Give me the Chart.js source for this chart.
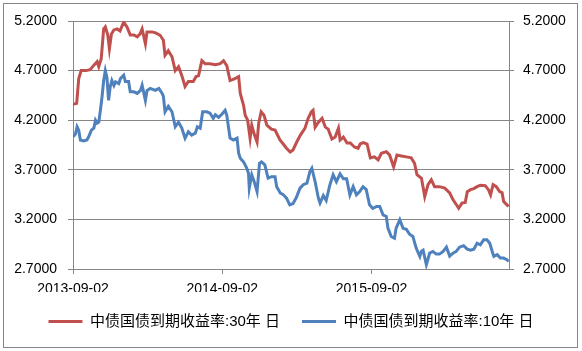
<!DOCTYPE html>
<html>
<head>
<meta charset="utf-8">
<script src="https://cdn.jsdelivr.net/npm/chart.js@4"></script>
<style>
  body { margin: 0; background: #fff; }
</style>
</head>
<body>
<canvas id="yieldChart" width="582" height="351"></canvas>
<script>
// days counted from 2013-09-02
const xTickDays = [0, 365, 730];
const xTickLabels = ['2013-09-02', '2014-09-02', '2015-09-02'];
const yTicks = [2.7, 3.2, 3.7, 4.2, 4.7, 5.2];
const lastDay = 1066;

const days30 = [0, 9, 14, 20, 32, 42, 51, 59, 63, 69, 75, 79, 85, 89, 94, 100, 108, 115, 124, 132,
  140, 149, 157, 164, 169, 177, 181, 193, 202, 213, 221, 225, 233, 242, 250, 258, 266, 274, 282, 294,
  301, 307, 315, 323, 335, 348, 360, 368, 376, 384, 396, 405, 409, 417, 421, 427, 433, 437, 443, 450,
  454, 460, 467, 474, 485, 494, 506, 514, 522, 531, 538, 547, 556, 567, 575, 583, 587, 592, 600, 609,
  617, 624, 633, 641, 649, 653, 661, 670, 678, 688, 697, 702, 710, 719, 727, 737, 746, 754, 766, 774,
  784, 792, 803, 815, 827, 835, 841, 852, 860, 868, 876, 884, 896, 909, 921, 929, 937, 943, 951, 959,
  964, 972, 980, 988, 996, 1008, 1016, 1021, 1027, 1035, 1043, 1049, 1053, 1061, 1065];
const yield30 = [4.36, 4.37, 4.62, 4.70, 4.70, 4.71, 4.755, 4.79, 4.74, 4.82, 5.12, 5.14, 5.06, 4.92, 5.07, 5.11, 5.12, 5.10, 5.19, 5.14,
  5.06, 5.06, 5.04, 5.07, 5.12, 4.97, 5.09, 5.09, 5.08, 5.056, 5.006, 4.855, 4.90, 4.84, 4.70, 4.74, 4.65, 4.54, 4.59, 4.59,
  4.64, 4.65, 4.80, 4.77, 4.77, 4.76, 4.77, 4.80, 4.75, 4.60, 4.62, 4.64, 4.47, 4.35, 4.25, 4.20, 4.017, 4.15, 4.06, 3.98,
  4.17, 4.285, 4.25, 4.15, 4.11, 4.10, 4.00, 3.96, 3.917, 3.88, 3.90, 3.98, 4.05, 4.117, 4.22, 4.285, 4.30, 4.13, 4.18, 4.22,
  4.13, 4.11, 4.01, 4.03, 4.12, 4.00, 4.03, 3.97, 3.97, 3.93, 3.917, 3.96, 3.975, 3.96, 3.82, 3.83, 3.80, 3.867, 3.883, 3.85,
  3.73, 3.85, 3.84, 3.83, 3.82, 3.766, 3.65, 3.615, 3.43, 3.55, 3.60, 3.53, 3.53, 3.515, 3.466, 3.40, 3.35, 3.313, 3.364, 3.37,
  3.48, 3.50, 3.51, 3.53, 3.545, 3.54, 3.497, 3.447, 3.55, 3.53, 3.48, 3.47, 3.38, 3.347, 3.33];

const days10 = [0, 6, 10, 14, 18, 26, 34, 38, 45, 51, 55, 59, 63, 67, 71, 75, 79, 83, 87, 91,
  95, 100, 104, 112, 116, 124, 128, 136, 140, 149, 157, 165, 169, 177, 181, 189, 201, 210, 218, 221,
  225, 233, 242, 250, 258, 266, 274, 282, 290, 299, 304, 311, 317, 327, 335, 343, 348, 356, 364, 372,
  376, 384, 392, 401, 405, 409, 417, 425, 429, 431, 437, 443, 450, 456, 461, 469, 477, 485, 494, 498,
  507, 514, 522, 530, 538, 546, 555, 563, 572, 579, 584, 592, 600, 604, 612, 619, 628, 636, 644, 653,
  661, 669, 677, 685, 693, 701, 709, 717, 725, 733, 742, 750, 758, 766, 770, 778, 786, 790, 799, 807,
  815, 823, 831, 839, 848, 852, 856, 864, 872, 880, 888, 896, 905, 913, 921, 929, 937, 945, 955, 964,
  972, 980, 988, 996, 1004, 1012, 1019, 1025, 1029, 1037, 1045, 1053, 1061, 1065];
const yield10 = [4.034, 4.06, 4.134, 4.10, 4.00, 3.99, 4.00, 4.03, 4.10, 4.12, 4.20, 4.17, 4.18, 4.30, 4.436, 4.60, 4.70, 4.63, 4.40, 4.536,
  4.60, 4.55, 4.587, 4.57, 4.62, 4.654, 4.59, 4.59, 4.486, 4.486, 4.47, 4.50, 4.553, 4.40, 4.50, 4.52, 4.50, 4.52, 4.47, 4.44,
  4.285, 4.34, 4.285, 4.134, 4.18, 4.12, 4.017, 4.084, 4.05, 4.07, 4.134, 4.12, 4.285, 4.285, 4.27, 4.218, 4.255, 4.23, 4.26, 4.30,
  4.25, 4.02, 4.00, 4.02, 3.867, 3.816, 3.78, 3.716, 3.665, 3.515, 3.65, 3.58, 3.48, 3.766, 3.78, 3.75, 3.615, 3.63, 3.63, 3.53,
  3.464, 3.45, 3.414, 3.347, 3.36, 3.42, 3.515, 3.55, 3.565, 3.68, 3.716, 3.58, 3.414, 3.364, 3.44, 3.39, 3.547, 3.65, 3.58, 3.66,
  3.61, 3.61, 3.447, 3.53, 3.447, 3.48, 3.53, 3.50, 3.347, 3.31, 3.33, 3.33, 3.246, 3.23, 3.112, 3.028, 3.01, 3.112, 3.196, 3.11,
  3.10, 3.05, 3.028, 2.911, 2.827, 2.88, 2.89, 2.743, 2.861, 2.877, 2.85, 2.85, 2.877, 2.92, 2.83, 2.86, 2.877, 2.92, 2.935, 2.90,
  2.89, 2.90, 2.96, 2.944, 2.994, 2.994, 2.96, 2.877, 2.827, 2.844, 2.81, 2.81, 2.793, 2.777];

const seriesNames = ['中债国债到期收益率:30年 日', '中债国债到期收益率:10年 日'];

function toPoints(days, values) {
    return days.map((d, i) => ({x: d, y: values[i]}));
}

const axisGrey = '#868686';
const labelFont = {family: '"Liberation Sans", "Noto Sans CJK SC", sans-serif', size: 14};

const frame = {
    id: 'frame',
    beforeDraw(chart) {
        const ctx = chart.ctx;
        ctx.save();
        ctx.fillStyle = '#fff';
        ctx.fillRect(0, 0, chart.width, chart.height);
        ctx.strokeStyle = axisGrey;
        ctx.lineWidth = 1;
        ctx.strokeRect(3.5, 3.5, 574, 344);
        ctx.restore();
    }
};

const yTickList = () => yTicks.map(v => ({value: v}));

new Chart(document.getElementById('yieldChart'), {
    type: 'line',
    data: {
        datasets: [{
            label: seriesNames[0],
            data: toPoints(days30, yield30),
            borderColor: '#C0504D',
            backgroundColor: '#C0504D',
            borderWidth: 3,
            pointRadius: 0,
            tension: 0,
            yAxisID: 'y'
        }, {
            label: seriesNames[1],
            data: toPoints(days10, yield10),
            borderColor: '#4F81BD',
            backgroundColor: '#4F81BD',
            borderWidth: 3,
            pointRadius: 0,
            tension: 0,
            yAxisID: 'y'
        }]
    },
    options: {
        responsive: false,
        animation: false,
        layout: {
            padding: {top: 21, left: 0, right: 0, bottom: 12}
        },
        scales: {
            x: {
                type: 'linear',
                min: 0,
                max: lastDay,
                afterBuildTicks: (scale) => { scale.ticks = xTickDays.map(v => ({value: v})); },
                afterFit: (scale) => { scale.height = 23; },
                grid: {drawOnChartArea: false, drawTicks: true, tickLength: 5, color: axisGrey},
                border: {display: true, color: axisGrey},
                ticks: {
                    padding: 7,
                    color: '#000',
                    font: labelFont,
                    maxRotation: 0,
                    callback: (value) => {
                        const i = xTickDays.indexOf(value);
                        return i >= 0 ? xTickLabels[i] : '';
                    }
                }
            },
            y: {
                position: 'left',
                min: 2.7,
                max: 5.2,
                afterBuildTicks: (scale) => { scale.ticks = yTickList(); },
                afterFit: (scale) => { scale.width = 73; },
                grid: {color: axisGrey, tickLength: 5},
                border: {display: true, color: axisGrey},
                ticks: {
                    padding: 11,
                    color: '#000',
                    font: labelFont,
                    callback: (value) => Number(value).toFixed(4)
                }
            },
            y2: {
                position: 'right',
                min: 2.7,
                max: 5.2,
                afterBuildTicks: (scale) => { scale.ticks = yTickList(); },
                afterFit: (scale) => { scale.width = 73; },
                grid: {drawOnChartArea: false, color: axisGrey, tickLength: 5},
                border: {display: true, color: axisGrey},
                ticks: {
                    padding: 9,
                    color: '#000',
                    font: labelFont,
                    callback: (value) => Number(value).toFixed(4)
                }
            }
        },
        plugins: {
            legend: {
                position: 'bottom',
                labels: {
                    usePointStyle: true,
                    pointStyle: 'line',
                    pointStyleWidth: 34,
                    padding: 22,
                    color: '#000',
                    font: {family: '"Liberation Sans", "Noto Sans CJK SC", sans-serif', size: 15}
                }
            },
            tooltip: {enabled: false}
        }
    },
    plugins: [frame]
});
</script>
</body>
</html>
